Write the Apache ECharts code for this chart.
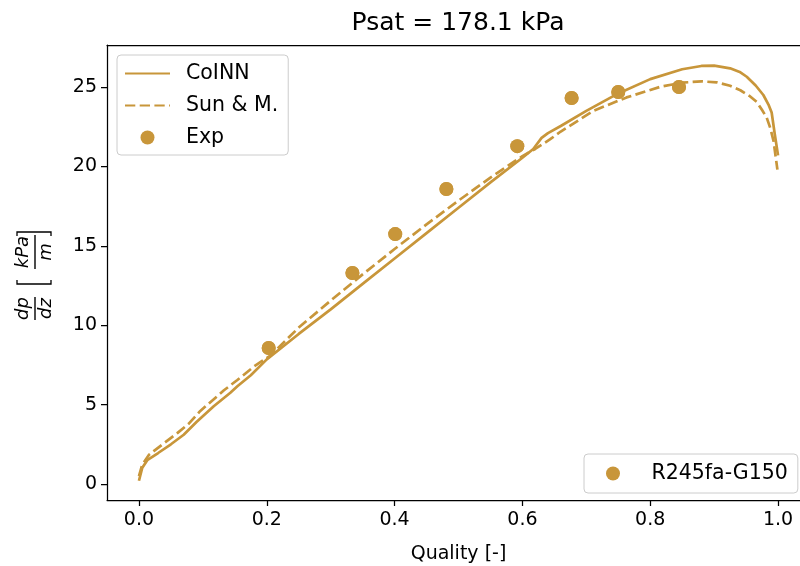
<!DOCTYPE html>
<html>
<head>
<meta charset="utf-8">
<script src="https://cdn.jsdelivr.net/npm/echarts@6/dist/echarts.min.js"></script>
<style>
html, body { margin: 0; padding: 0; background: #fff; }
#chart { width: 800px; height: 566px; }
</style>
</head>
<body>
<div id="chart"></div>
<script type="text/javascript">
// CoINN model curve
var coinnX = [0.0, 0.005, 0.013, 0.03, 0.05, 0.07, 0.09, 0.117, 0.143, 0.154, 0.175, 0.2, 0.25, 0.3, 0.35, 0.4, 0.45, 0.5, 0.55, 0.6, 0.617, 0.63, 0.64, 0.66, 0.7, 0.75, 0.8, 0.85, 0.88, 0.9, 0.925, 0.94, 0.951, 0.965, 0.977, 0.985, 0.99, 0.995, 1.0];
var coinnY = [0.2, 1.0, 1.5, 1.95, 2.5, 3.1, 3.9, 4.9, 5.75, 6.15, 6.85, 7.85, 9.45, 11.0, 12.6, 14.2, 15.8, 17.4, 19.0, 20.55, 21.1, 21.8, 22.1, 22.55, 23.5, 24.6, 25.5, 26.12, 26.33, 26.35, 26.18, 25.95, 25.65, 25.1, 24.5, 23.9, 23.4, 22.0, 20.7];
// Sun & Mishima correlation
var sunX = [0.0, 0.005, 0.016, 0.037, 0.06, 0.078, 0.096, 0.133, 0.154, 0.18, 0.206, 0.25, 0.3, 0.35, 0.4, 0.45, 0.5, 0.55, 0.6, 0.62, 0.643, 0.66, 0.711, 0.763, 0.816, 0.85, 0.88, 0.904, 0.925, 0.941, 0.955, 0.967, 0.975, 0.982, 0.988, 0.993, 0.999];
var sunY = [0.5, 1.2, 1.85, 2.5, 3.2, 3.8, 4.6, 5.9, 6.55, 7.4, 8.1, 9.85, 11.55, 13.2, 14.8, 16.35, 17.85, 19.3, 20.65, 21.1, 21.7, 22.2, 23.5, 24.35, 25.02, 25.28, 25.36, 25.3, 25.08, 24.8, 24.45, 24.05, 23.55, 23.1, 22.4, 21.6, 19.8];
// experimental points
var expX = [0.203, 0.334, 0.401, 0.481, 0.592, 0.677, 0.750, 0.845];
var expY = [8.56, 13.29, 15.74, 18.58, 21.28, 24.31, 24.69, 25.0];
var xTicks = [0, 0.2, 0.4, 0.6, 0.8, 1.0];
var yTicks = [0, 5, 10, 15, 20, 25];

var gold = '#c8963a';
var fontFam = 'DejaVu Sans';

function pairs(xs, ys) {
	return xs.map(function (x, i) { return [x, ys[i]]; });
}

var myChart = echarts.init(document.getElementById('chart'), null, { renderer: 'canvas' });

function legendBox(extra) {
	var base = {
		orient: 'vertical',
		align: 'left',
		backgroundColor: 'rgba(255,255,255,0.8)',
		borderColor: '#cccccc',
		borderWidth: 1,
		borderRadius: 4,
		itemWidth: 45,
		itemHeight: 14,
		textStyle: { fontFamily: fontFam, fontSize: 20.5, color: '#000', padding: [0, 0, 0, 11] }
	};
	for (var k in extra) { base[k] = extra[k]; }
	return base;
}

var axisLineStyle = { color: '#000', width: 1.25 };

var option = {
	animation: false,
	backgroundColor: '#fff',
	title: {
		text: 'Psat = 178.1 kPa',
		left: 458,
		top: 11,
		padding: 0,
		textAlign: 'center',
		textStyle: { fontFamily: fontFam, fontSize: 25, fontWeight: 'normal', color: '#000' }
	},
	grid: { left: 107, top: 45, width: 703, height: 455, outerBoundsMode: 'none' },
	legend: [
		legendBox({
			left: 117, top: 55,
			padding: [8, 10, 7, 7],
			itemGap: 11,
			data: ['CoINN', 'Sun & M.', { name: 'Exp', icon: 'circle' }]
		}),
		// the circle icon's bounding box is narrower than itemWidth, so pad more on the left
		legendBox({
			left: 584, top: 454,
			padding: [9, 10, 9, 22],
			data: [{ name: 'R245fa-G150', icon: 'circle' }]
		})
	],
	xAxis: [
		{
			type: 'value',
			min: -0.05, max: 1.05,
			name: 'Quality [-]',
			nameLocation: 'middle',
			nameGap: 45,
			nameTextStyle: { fontFamily: fontFam, fontSize: 19, color: '#000' },
			splitLine: { show: false },
			axisLine: { onZero: false, lineStyle: axisLineStyle },
			axisTick: { customValues: xTicks, length: 6, lineStyle: axisLineStyle },
			axisLabel: {
				customValues: xTicks, margin: 11,
				fontFamily: fontFam, fontSize: 19, color: '#000',
				formatter: function (v) { return v.toFixed(1); }
			}
		},
		{
			type: 'value', position: 'top',
			min: -0.05, max: 1.05,
			splitLine: { show: false },
			axisLine: { onZero: false, lineStyle: axisLineStyle },
			axisTick: { show: false },
			axisLabel: { show: false }
		}
	],
	yAxis: {
		type: 'value',
		min: -1.01, max: 27.65,
		splitLine: { show: false },
		axisLine: { onZero: false, lineStyle: axisLineStyle },
		axisTick: { customValues: yTicks, length: 6, lineStyle: axisLineStyle },
		axisLabel: {
			customValues: yTicks, margin: 10,
			fontFamily: fontFam, fontSize: 19, color: '#000'
		}
	},
	series: [
		{
			name: 'CoINN', type: 'line', symbol: 'none',
			data: pairs(coinnX, coinnY),
			lineStyle: { color: gold, width: 2.7 },
			itemStyle: { color: gold, opacity: 0 },
			z: 3
		},
		{
			name: 'Sun & M.', type: 'line', symbol: 'none',
			data: pairs(sunX, sunY),
			lineStyle: { color: gold, width: 2.7, type: [10.3, 4.4] },
			itemStyle: { color: gold, opacity: 0 },
			z: 3
		},
		{
			name: 'Exp', type: 'scatter', symbol: 'circle', symbolSize: 14,
			data: pairs(expX, expY),
			itemStyle: { color: gold, opacity: 1 },
			z: 4
		},
		{
			name: 'R245fa-G150', type: 'scatter', symbol: 'circle', symbolSize: 14,
			data: pairs(expX, expY),
			itemStyle: { color: gold, opacity: 1 },
			z: 4
		}
	],
	graphic: [
		{
			type: 'group',
			x: 35, y: 278,
			rotation: Math.PI / 2,
			children: [
				{ type: 'text', x: -30.5, y: -3, style: { text: 'dp', fontFamily: fontFam, fontStyle: 'italic', fontSize: 18, fill: '#000', align: 'center', verticalAlign: 'bottom' } },
				{ type: 'line', shape: { x1: -42, y1: 0, x2: -19, y2: 0 }, style: { stroke: '#000', lineWidth: 1.4 } },
				{ type: 'text', x: -30.5, y: 2, style: { text: 'dz', fontFamily: fontFam, fontStyle: 'italic', fontSize: 18, fill: '#000', align: 'center', verticalAlign: 'top' } },
				{ type: 'polyline', shape: { points: [[-2, -18], [-6, -18], [-6, 16], [-2, 16]] }, style: { stroke: '#000', lineWidth: 1.3, fill: null } },
				{ type: 'text', x: 26, y: -3, style: { text: 'kPa', fontFamily: fontFam, fontStyle: 'italic', fontSize: 18, fill: '#000', align: 'center', verticalAlign: 'bottom' } },
				{ type: 'line', shape: { x1: 9, y1: 0, x2: 43, y2: 0 }, style: { stroke: '#000', lineWidth: 1.4 } },
				{ type: 'text', x: 26, y: 2, style: { text: 'm', fontFamily: fontFam, fontStyle: 'italic', fontSize: 18, fill: '#000', align: 'center', verticalAlign: 'top' } },
				{ type: 'polyline', shape: { points: [[42, -18], [46, -18], [46, 16], [42, 16]] }, style: { stroke: '#000', lineWidth: 1.3, fill: null } }
			]
		}
	]
};
myChart.setOption(option);
</script>
</body>
</html>
